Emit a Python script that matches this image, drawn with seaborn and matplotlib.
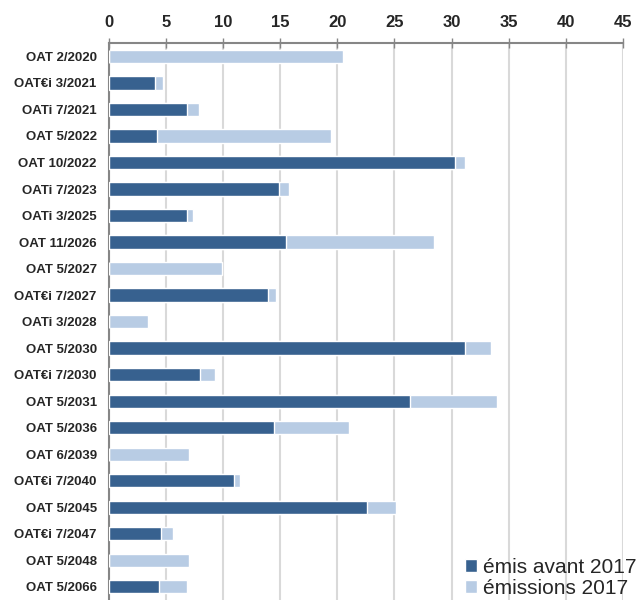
import numpy as np
import pandas as pd
import matplotlib
matplotlib.use("Agg")
import matplotlib.pyplot as plt
from matplotlib.patches import Patch
import seaborn as sns

# OAT lines and amounts (Md EUR)
lignes = ['OAT 2/2020', 'OAT€i 3/2021', 'OATi 7/2021', 'OAT 5/2022', 'OAT 10/2022',
          'OATi 7/2023', 'OATi 3/2025', 'OAT 11/2026', 'OAT 5/2027', 'OAT€i 7/2027',
          'OATi 3/2028', 'OAT 5/2030', 'OAT€i 7/2030', 'OAT 5/2031', 'OAT 5/2036',
          'OAT 6/2039', 'OAT€i 7/2040', 'OAT 5/2045', 'OAT€i 7/2047', 'OAT 5/2048',
          'OAT 5/2066']
avant_2017 = [0, 4.0, 6.8, 4.2, 30.3, 14.9, 6.8, 15.5, 0, 13.95,
              0, 31.2, 8.0, 26.4, 14.45, 0, 10.95, 22.55, 4.55, 0, 4.4]
emissions_2017 = [20.5, 0.75, 1.1, 15.2, 0.9, 0.9, 0.55, 13.0, 9.9, 0.65,
                  3.4, 2.25, 1.25, 7.6, 6.55, 7.0, 0.55, 2.55, 1.05, 7.0, 2.45]

dark = '#37618f'
light = '#b8cce4'

df = pd.DataFrame({'ligne': lignes, 'avant': avant_2017,
                   'total': np.array(avant_2017) + np.array(emissions_2017)})

sns.set_style("white")
plt.rcParams['font.family'] = ['Liberation Sans', 'DejaVu Sans']

fig = plt.figure(figsize=(6.42, 6.0), dpi=100)
ax = fig.add_axes([0.170, 0.0, 0.800, 0.928])

sns.barplot(data=df, x='total', y='ligne', color=light, orient='h',
            width=0.5, saturation=1, ax=ax, zorder=2)
sns.barplot(data=df, x='avant', y='ligne', color=dark, orient='h',
            width=0.5, saturation=1, ax=ax, zorder=3)

ax.set_xlim(0, 45)
ax.set_ylim(len(lignes) - 0.5, -0.5)
ax.set_xticks(np.arange(0, 46, 5))
ax.xaxis.tick_top()
ax.tick_params(axis='x', which='major', direction='inout', length=7, width=1,
               color='#868686', labelsize=12, pad=6)
for lab in ax.get_xticklabels():
    lab.set_fontweight('bold')
ax.tick_params(axis='y', which='major', length=0, labelsize=9.5, pad=9)
for lab in ax.get_yticklabels():
    lab.set_fontweight('bold')
ax.set_yticks(np.arange(len(lignes)) + 0.5, minor=True)
ax.tick_params(axis='y', which='minor', direction='out', length=4, width=1,
               color='#868686')

ax.grid(axis='x', color='#d9d9d9', linewidth=1.5, zorder=0)
ax.set_axisbelow(True)
ax.set_xlabel('')
ax.set_ylabel('')
for side in ['right', 'bottom']:
    ax.spines[side].set_visible(False)
for side in ['top', 'left']:
    ax.spines[side].set_color('#868686')
    ax.spines[side].set_linewidth(1.5)

handles = [Patch(facecolor=dark, label='émis avant 2017'),
           Patch(facecolor=light, label='émissions 2017')]
ax.legend(handles=handles, loc='lower right', bbox_to_anchor=(1.063, -0.03),
          frameon=False, fontsize=15, handlelength=0.55, handleheight=0.55,
          handletextpad=0.3, labelspacing=0.1)

fig.savefig('out.png', dpi=100)
